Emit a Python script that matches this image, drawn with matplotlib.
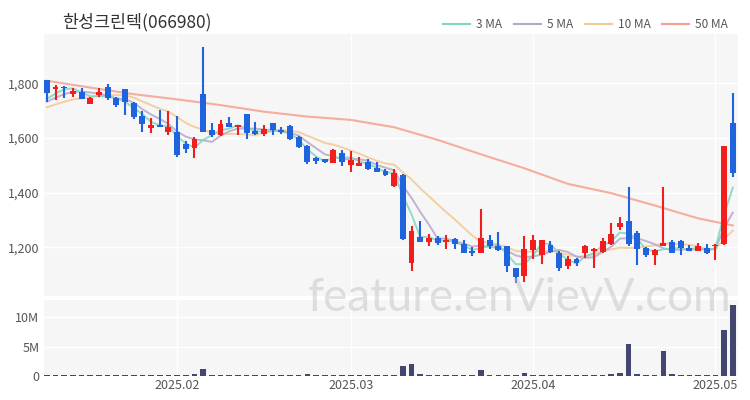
import numpy as np
import pandas as pd
import matplotlib
matplotlib.use('Agg')
import matplotlib.pyplot as plt
from matplotlib.lines import Line2D

# daily candles (KRW)
opens = [1810, 1778, 1788, 1760, 1769, 1724, 1757, 1788, 1745, 1778,
         1729, 1680, 1635, 1647, 1623, 1623, 1578, 1562, 1761, 1629,
         1610, 1654, 1641, 1686, 1627, 1614, 1654, 1629, 1644, 1605,
         1572, 1528, 1522, 1510, 1546, 1501, 1498, 1513, 1489, 1480,
         1425, 1465, 1142, 1237, 1221, 1233, 1221, 1231, 1212, 1188,
         1181, 1225, 1203, 1203, 1124, 1096, 1191, 1172, 1209, 1181,
         1130, 1156, 1178, 1188, 1184, 1212, 1276, 1297, 1254, 1197,
         1172, 1206, 1221, 1223, 1197, 1188, 1197, 1203, 1212, 1656]
highs = [1812, 1792, 1790, 1782, 1784, 1751, 1784, 1796, 1751, 1780,
         1732, 1700, 1672, 1702, 1700, 1680, 1590, 1603, 1932, 1654,
         1666, 1676, 1648, 1688, 1660, 1648, 1656, 1640, 1648, 1607,
         1575, 1530, 1524, 1558, 1556, 1554, 1532, 1524, 1513, 1485,
         1486, 1468, 1278, 1297, 1249, 1240, 1245, 1235, 1227, 1200,
         1339, 1245, 1257, 1205, 1126, 1240, 1245, 1228, 1222, 1185,
         1170, 1160, 1209, 1196, 1233, 1290, 1310, 1422, 1258, 1200,
         1195, 1422, 1228, 1226, 1210, 1217, 1212, 1212, 1572, 1763]
lows = [1733, 1739, 1745, 1749, 1741, 1724, 1749, 1737, 1713, 1684,
        1670, 1623, 1617, 1639, 1611, 1532, 1544, 1526, 1620, 1605,
        1608, 1639, 1611, 1595, 1612, 1607, 1611, 1615, 1592, 1562,
        1505, 1505, 1508, 1508, 1498, 1477, 1496, 1483, 1475, 1462,
        1422, 1228, 1114, 1219, 1205, 1210, 1193, 1195, 1178, 1168,
        1178, 1195, 1188, 1108, 1069, 1075, 1156, 1139, 1180, 1115,
        1120, 1133, 1160, 1124, 1180, 1208, 1264, 1205, 1137, 1165,
        1135, 1204, 1178, 1172, 1186, 1186, 1175, 1154, 1210, 1456]
closes = [1763, 1788, 1784, 1772, 1741, 1745, 1769, 1745, 1720, 1733,
          1676, 1651, 1648, 1639, 1641, 1538, 1559, 1596, 1623, 1611,
          1650, 1641, 1648, 1618, 1614, 1632, 1629, 1622, 1595, 1566,
          1513, 1517, 1511, 1556, 1513, 1519, 1510, 1485, 1477, 1465,
          1471, 1230, 1261, 1221, 1233, 1217, 1227, 1212, 1181, 1178,
          1233, 1205, 1191, 1130, 1093, 1194, 1225, 1225, 1184, 1124,
          1156, 1141, 1203, 1194, 1223, 1249, 1290, 1211, 1193, 1172,
          1191, 1215, 1181, 1197, 1188, 1203, 1178, 1209, 1572, 1473]
# volume in millions of shares
volume_m = [0.1, 0.1, 0.1, 0.1, 0.1, 0.1, 0.1, 0.1, 0.1, 0.1,
            0.1, 0.1, 0.1, 0.1, 0.1, 0.2, 0.1, 0.3, 1.14, 0.12,
            0.12, 0.1, 0.1, 0.1, 0.1, 0.1, 0.1, 0.15, 0.1, 0.12,
            0.35, 0.1, 0.1, 0.1, 0.12, 0.1, 0.1, 0.1, 0.1, 0.1,
            0.1, 1.71, 2.0, 0.3, 0.15, 0.12, 0.15, 0.1, 0.12, 0.12,
            1.08, 0.12, 0.12, 0.15, 0.12, 0.45, 0.2, 0.15, 0.1, 0.12,
            0.12, 0.12, 0.25, 0.1, 0.12, 0.3, 0.57, 5.4, 0.3, 0.2,
            0.2, 4.2, 0.3, 0.12, 0.12, 0.12, 0.12, 0.12, 7.8, 12.0]
# estimated closes just before the window (only feed the short MAs)
pre_closes = [1680, 1685, 1690, 1700, 1700, 1715, 1720, 1730, 1735]
# 50 MA at these candles
ma50_idx = [0, 5, 10, 15, 20, 25, 30, 35, 40, 45, 50, 55, 60, 65, 70, 75, 79]
ma50_val = [1809, 1784, 1760, 1741, 1720, 1696, 1678, 1666, 1639, 1593,
            1540, 1489, 1432, 1398, 1353, 1306, 1280]

tick_idx = [15, 35, 56, 77]
tick_lab = ['2025.02', '2025.03', '2025.04', '2025.05']

plt.rcParams['font.family'] = ['Noto Sans CJK KR', 'DejaVu Sans']

up_col = '#f21d1d'
dn_col = '#1f63de'
bg = '#f6f6f7'
txt = '#555555'
ma_cols = ['#7fd6c2', '#b6a6cc', '#f4c98e', '#f5a08c']

n = len(closes)
x = np.arange(n)
o = np.array(opens); h = np.array(highs); l = np.array(lows); c = np.array(closes)

allc = pd.Series(pre_closes + closes)
k = len(pre_closes)
ma3 = allc.rolling(3).mean().values[k:]
ma5 = allc.rolling(5).mean().values[k:]
ma10 = allc.rolling(10).mean().values[k:]

f = plt.figure(figsize=(7.5, 4), dpi=100)
ax = f.add_axes([0.059, 0.26, 0.925, 0.655])
axv = f.add_axes([0.059, 0.06, 0.925, 0.19])

for a in (ax, axv):
    a.set_facecolor(bg)
    for s in a.spines.values():
        s.set_visible(False)
    a.tick_params(length=0, labelsize=9, colors=txt)
    a.set_xlim(-0.3, 79.6)
    a.set_xticks(tick_idx)
    a.grid(True, color='white', lw=1.0)
    a.set_axisbelow(True)

# moving averages
ax.plot(ma50_idx, ma50_val, color=ma_cols[3], lw=1.5, alpha=0.85, zorder=2)
ax.plot(x, ma10, color=ma_cols[2], lw=1.4, alpha=0.85, zorder=2)
ax.plot(x, ma5, color=ma_cols[1], lw=1.4, alpha=0.85, zorder=2)
ax.plot(x, ma3, color=ma_cols[0], lw=1.4, alpha=0.85, zorder=2)

# candles
cols = np.where(c >= o, up_col, dn_col)
body_lo = np.minimum(o, c)
body_h = np.maximum(np.abs(c - o), 3)
ax.vlines(x, l, h, colors=cols, lw=1.5, zorder=3)
ax.bar(x, body_h, bottom=body_lo, width=0.68, color=cols, zorder=4)

ax.set_ylim(1022, 1980)
ax.set_yticks([1200, 1400, 1600, 1800])
ax.set_yticklabels(['1,200', '1,400', '1,600', '1,800'])
ax.set_xticklabels([])

axv.bar(x, volume_m, width=0.65, color='#43466e', zorder=3)
axv.set_ylim(0, 12.9)
axv.set_yticks([0, 5, 10])
axv.set_yticklabels(['0', '5M', '10M'])
axv.set_xticklabels(tick_lab)
axv.tick_params(axis='x', pad=2)

f.text(0.083, 0.945, '한성크린텍(066980)', fontsize=12.5, color='#333333', va='center')

handles = [Line2D([], [], color=cc, lw=1.5) for cc in ma_cols]
f.legend(handles, ['3 MA', '5 MA', '10 MA', '50 MA'], loc='center right',
         bbox_to_anchor=(0.985, 0.938), ncol=4, frameon=False, fontsize=8.5,
         handlelength=2.3, columnspacing=1.0, handletextpad=0.5, labelcolor=txt)

f.text(0.693, 0.255, 'feature.enVievV.com', fontsize=33, color='#c4c4c4',
       alpha=0.5, ha='center', va='center', family=['Lato', 'DejaVu Sans'])

f.savefig('out.png', dpi=100)
